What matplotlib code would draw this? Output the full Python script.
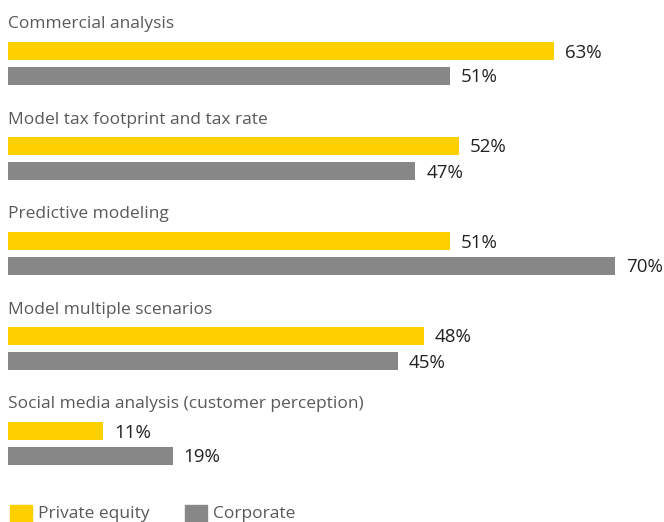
import matplotlib
matplotlib.use("Agg")
import matplotlib.pyplot as plt
from matplotlib.patches import Rectangle

categories = ["Commercial analysis", "Model tax footprint and tax rate",
              "Predictive modeling", "Model multiple scenarios",
              "Social media analysis (customer perception)"]
private_equity = [63, 52, 51, 48, 11]
corporate = [51, 47, 70, 45, 19]
series_names = ["Private equity", "Corporate"]
colors = ["#FFD000", "#878787"]

W, H = 664, 522
fig = plt.figure(figsize=(W / 100, H / 100), dpi=100)
ax = fig.add_axes([0, 0, 1, 1])
px_per_pct = 546 / 63.0
x0 = 8
ax.set_xlim(-x0 / px_per_pct, (W - x0) / px_per_pct)
ax.set_ylim(H, 0)
ax.axis("off")

font = "Open Sans"
step = 95
for i, cat in enumerate(categories):
    base = i * step
    ax.text(0, base + 24.5, cat, fontsize=12.5, color="#595959", va="center",
            ha="left", family=font)
    for j, vals in enumerate([private_equity, corporate]):
        yc = base + 51 + 25 * j
        ax.barh(yc, vals[i], height=18, color=colors[j], left=0)
        ax.text(vals[i] + 11 / px_per_pct, yc + 1.5, f"{vals[i]}%", fontsize=13.5,
                color="#222222", va="center", ha="left", family=font)

# legend
leg_x = [10, 185]
for j, name in enumerate(series_names):
    xs = (leg_x[j] - x0) / px_per_pct
    ax.add_patch(Rectangle((xs, 505), 22 / px_per_pct, 18, color=colors[j],
                           clip_on=False))
    ax.text(xs + 28 / px_per_pct, 514.5, name, fontsize=12.5, color="#595959",
            va="center", ha="left", family=font)

fig.savefig("out.png", dpi=100)
